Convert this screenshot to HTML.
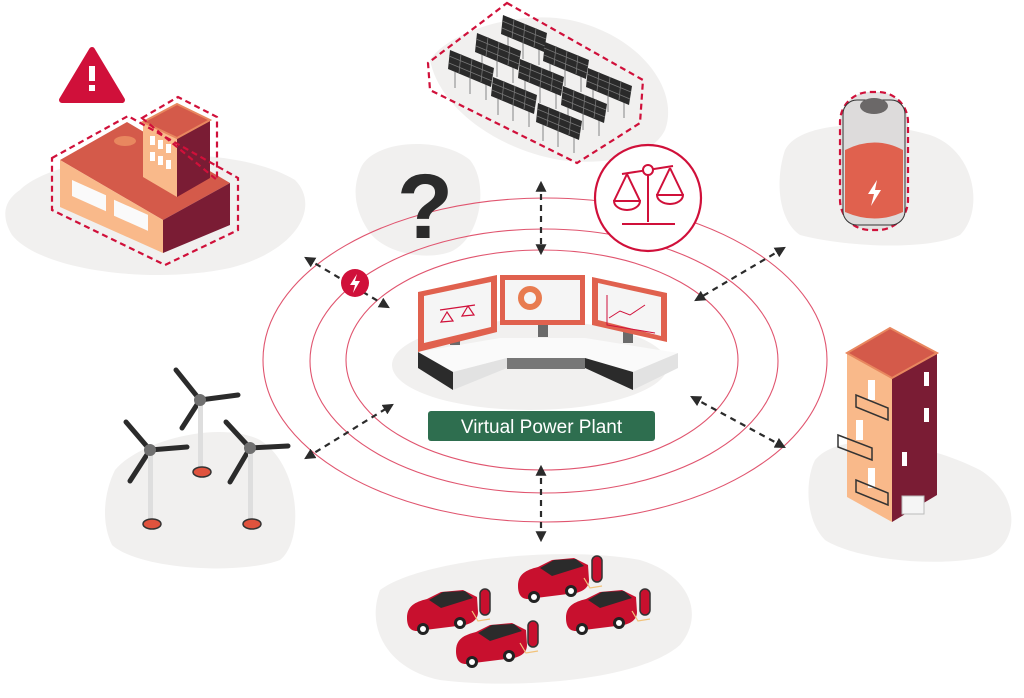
<!DOCTYPE html>
<html><head><meta charset="utf-8"><style>
html,body{margin:0;padding:0;background:#fff;width:1024px;height:698px;overflow:hidden}
svg{display:block}
</style></head><body>
<svg width="1024" height="698" viewBox="0 0 1024 698" xmlns="http://www.w3.org/2000/svg">
<defs>
<marker id="ah" viewBox="0 0 10 10" refX="8" refY="5" markerWidth="5" markerHeight="5" orient="auto-start-reverse"><path d="M0,0 L10,5 L0,10 z" fill="#2b2b2b"/></marker>
<g id="panel"><path d="M5,22 V38 M20,28 V44 M36,34 V50" stroke="#bbb" stroke-width="2"/><polygon points="0,0 44,18 41,37 -2,19" fill="#2a2a2a"/><path d="M11,4 L9,23 M22,9 L20,28 M33,13 L31,32 M-1,6 L43,24 M-1,13 L42,31" stroke="#777" stroke-width="0.8" fill="none"/></g>
<g id="car"><path d="M0,26 C0,14 8,10 20,7 L34,0 L56,-2 L70,5 L71,20 C71,27 66,31 58,33 L10,39 C3,39 0,34 0,26z" fill="#c8102e"/><path d="M22,8 L36,0 L58,-1 L66,6 L34,16z" fill="#2b2b2b"/><circle cx="16" cy="37" r="6" fill="#222"/><circle cx="16" cy="37" r="3" fill="#fff"/><circle cx="53" cy="31" r="6" fill="#222"/><circle cx="53" cy="31" r="3" fill="#fff"/></g>
<g id="charger"><rect x="0" y="0" width="10" height="26" rx="5" fill="#c8102e" stroke="#333" stroke-width="1.5"/><path d="M-8,22 L-2,32 L10,30" stroke="#f2c27a" stroke-width="1.2" fill="none"/></g>
</defs>

<g fill="#f1f0ef">
<path d="M20,190 C60,150 230,140 295,180 C320,205 300,250 230,268 C150,285 40,270 12,235 C0,215 5,200 20,190z"/>
<path d="M430,60 C450,30 520,10 570,20 C640,35 680,90 665,130 C650,160 600,165 560,160 C500,150 440,110 430,60z"/>
<path d="M785,150 C800,120 880,120 930,135 C975,150 985,210 960,235 C930,250 850,248 800,235 C778,220 775,180 785,150z"/>
<path d="M360,170 C370,140 440,135 470,160 C490,185 480,240 450,252 C420,262 380,250 368,230 C355,210 352,190 360,170z"/>
<path d="M815,460 C840,430 920,440 980,470 C1020,495 1020,540 990,555 C950,568 860,562 825,540 C805,520 805,480 815,460z"/>
<path d="M115,470 C140,440 220,420 260,440 C300,465 305,540 280,560 C240,575 140,570 112,545 C100,520 105,490 115,470z"/>
<path d="M380,590 C420,560 560,545 640,560 C690,575 705,615 680,645 C640,680 520,690 440,680 C390,670 365,630 380,590z"/>
<ellipse cx="530" cy="365" rx="138" ry="45"/>
</g>

<g fill="none" stroke="#e0556f" stroke-width="1.1">
<ellipse cx="545" cy="360" rx="282" ry="162"/>
<ellipse cx="544" cy="361" rx="234" ry="132"/>
<ellipse cx="542" cy="360" rx="196" ry="110"/>
</g>

<g stroke="#2b2b2b" stroke-width="2.2" stroke-dasharray="6,5" fill="none" marker-start="url(#ah)" marker-end="url(#ah)">
<line x1="541" y1="183" x2="541" y2="253"/>
<line x1="541" y1="467" x2="541" y2="540"/>
<line x1="306" y1="258" x2="388" y2="307"/>
<line x1="784" y1="248" x2="696" y2="300"/>
<line x1="306" y1="458" x2="392" y2="405"/>
<line x1="784" y1="447" x2="692" y2="397"/>
</g>

<circle cx="355" cy="283" r="14" fill="#d0103a"/>
<path d="M357,274 L350,285 L355,285 L353,293 L360,281 L355,281z" fill="#fff"/>

<text x="425" y="238" font-family="Liberation Sans, sans-serif" font-size="92" font-weight="bold" fill="#2b2b2b" text-anchor="middle">?</text>

<circle cx="648" cy="198" r="53" fill="#fff" stroke="#d0103a" stroke-width="2.2"/>
<g stroke="#d0103a" stroke-width="2" fill="none">
<line x1="622" y1="174" x2="673" y2="166"/><circle cx="648" cy="170" r="5" fill="#fff"/>
<line x1="648" y1="175" x2="648" y2="222"/><line x1="622" y1="224" x2="675" y2="224"/>
<path d="M627,174 L614,201 M627,174 L640,201 M614,201 A13,9 0 0 0 640,201z"/>
<path d="M670,168 L657,195 M670,168 L683,195 M657,195 A13,9 0 0 0 683,195z"/>
</g>

<g>
<polygon points="60,160 127,122 230,183 163,220" fill="#d45a4a"/>
<polygon points="60,160 163,220 163,253 60,207" fill="#f9b98a"/>
<polygon points="163,220 230,183 230,225 163,253" fill="#7a1c34"/>
<ellipse cx="125" cy="141" rx="11" ry="5" fill="#e8875f"/>
<rect x="72" y="180" width="34" height="16" fill="#fafafa" transform="skewY(24) translate(0,-32)"/>
<rect x="114" y="200" width="34" height="16" fill="#fafafa" transform="skewY(24) translate(0,-51)"/>
<polygon points="143,122 177,138 177,197 143,177" fill="#f9b98a"/>
<polygon points="177,138 210,120 210,178 177,197" fill="#7a1c34"/>
<polygon points="143,122 177,104 210,120 177,138" fill="#d45a4a" stroke="#e8875f" stroke-width="2"/>
<g fill="#fff"><rect x="150" y="136" width="5" height="9"/><rect x="158" y="140" width="5" height="9"/><rect x="166" y="144" width="5" height="9"/><rect x="150" y="152" width="5" height="9"/><rect x="158" y="156" width="5" height="9"/><rect x="166" y="160" width="5" height="9"/></g>
<g fill="none" stroke="#d0103a" stroke-width="2.2" stroke-dasharray="6,4">
<polygon points="52,158 128,116 238,178 238,230 165,265 52,210"/>
<polygon points="142,118 178,97 217,117 217,180"/>
</g>
<path d="M92,50 L122,100 L62,100z" fill="#d0103a" stroke="#d0103a" stroke-width="6" stroke-linejoin="round"/>
<rect x="89" y="66" width="6" height="15" fill="#fff"/><rect x="89" y="85" width="6" height="6" fill="#fff"/>
</g>

<g>
<use href="#panel" x="503" y="15"/><use href="#panel" x="477" y="33"/><use href="#panel" x="450" y="50"/>
<use href="#panel" x="545" y="42"/><use href="#panel" x="520" y="59"/><use href="#panel" x="493" y="77"/>
<use href="#panel" x="588" y="68"/><use href="#panel" x="563" y="86"/><use href="#panel" x="538" y="103"/>
<polygon points="507,3 643,80 640,123 577,163 430,90 428,63" fill="none" stroke="#d0103a" stroke-width="2.2" stroke-dasharray="6,4"/>
</g>

<g>
<rect x="840" y="92" width="68" height="138" rx="30" fill="#e4e2e2" stroke="#d0103a" stroke-width="2.2" stroke-dasharray="6,4"/>
<rect x="843" y="100" width="62" height="125" rx="14" fill="#dddbdb" stroke="#333" stroke-width="1"/>
<path d="M845,150 Q875,135 903,150 L903,212 Q875,225 845,212z" fill="#e0614e"/>
<ellipse cx="874" cy="106" rx="14" ry="8" fill="#6b6868"/>
<path d="M877,180 L868,194 L874,194 L871,206 L881,190 L875,190z" fill="#fff"/>
</g>

<g>
<polygon points="847,353 892,378 892,522 847,497" fill="#f9b98a"/>
<polygon points="892,378 937,353 937,495 892,522" fill="#7a1c34"/>
<polygon points="890,328 937,353 892,378 847,353" fill="#d45a4a" stroke="#e8875f" stroke-width="2"/>
<g fill="#fff"><rect x="924" y="372" width="5" height="14"/><rect x="924" y="408" width="5" height="14"/><rect x="902" y="452" width="5" height="14"/><rect x="868" y="380" width="7" height="20"/><rect x="856" y="420" width="7" height="20"/><rect x="868" y="468" width="7" height="20"/></g>
<g fill="none" stroke="#333" stroke-width="1.5"><path d="M856,395 L856,407 L888,420 L888,408z"/><path d="M838,435 L838,447 L872,460 L872,448z"/><path d="M856,480 L856,492 L888,505 L888,493z"/></g>
<rect x="902" y="496" width="22" height="18" fill="#f5f5f5" stroke="#bbb"/>
</g>

<g stroke="#2b2b2b" stroke-width="5" stroke-linecap="round">
<line x1="200" y1="400" x2="176" y2="370"/><line x1="200" y1="400" x2="238" y2="395"/><line x1="200" y1="400" x2="182" y2="428"/>
<line x1="150" y1="450" x2="126" y2="422"/><line x1="150" y1="450" x2="187" y2="447"/><line x1="150" y1="450" x2="130" y2="481"/>
<line x1="250" y1="448" x2="226" y2="422"/><line x1="250" y1="448" x2="288" y2="446"/><line x1="250" y1="448" x2="230" y2="482"/>
</g>
<g fill="#dedede"><rect x="198" y="400" width="5" height="72"/><rect x="148" y="450" width="5" height="75"/><rect x="248" y="450" width="5" height="75"/></g>
<g fill="#e0533e" stroke="#333" stroke-width="1.5"><ellipse cx="202" cy="472" rx="9" ry="5"/><ellipse cx="152" cy="524" rx="9" ry="5"/><ellipse cx="252" cy="524" rx="9" ry="5"/></g>
<g fill="#707070"><circle cx="200" cy="400" r="6"/><circle cx="150" cy="450" r="6"/><circle cx="250" cy="448" r="6"/></g>

<use href="#car" x="518" y="560"/><use href="#charger" x="592" y="556"/>
<use href="#car" x="407" y="592"/><use href="#charger" x="480" y="589"/>
<use href="#car" x="566" y="592"/><use href="#charger" x="640" y="589"/>
<use href="#car" x="456" y="625"/><use href="#charger" x="528" y="621"/>

<polygon points="418,352 500,338 585,338 678,353 633,372 585,358 507,358 453,372" fill="#fafafa"/>
<polygon points="418,352 453,372 453,390 418,368" fill="#2b2b2b"/>
<polygon points="453,372 507,358 507,368 453,390" fill="#e2e2e2"/>
<rect x="507" y="358" width="78" height="11" fill="#777"/>
<polygon points="585,358 633,372 633,390 585,368" fill="#2b2b2b"/>
<polygon points="633,372 678,353 678,368 633,390" fill="#e2e2e2"/>
<g fill="#6a6a6a"><rect x="450" y="330" width="10" height="15"/><rect x="538" y="325" width="10" height="12"/><rect x="623" y="325" width="10" height="18"/></g>
<polygon points="418,292 497,275 497,332 418,352" fill="#e0614e"/>
<polygon points="424,296 491,282 491,327 424,343" fill="#f5f5f5"/>
<rect x="500" y="275" width="85" height="50" fill="#e0614e"/>
<rect x="505" y="280" width="75" height="40" fill="#f5f5f5"/>
<polygon points="592,277 667,293 667,342 592,325" fill="#e0614e"/>
<polygon points="598,283 661,297 661,336 598,320" fill="#f5f5f5"/>
<circle cx="530" cy="298" r="9" fill="none" stroke="#e87b4f" stroke-width="6"/>
<path d="M440,310 L475,305 M447,312 L441,322 L453,321z M468,306 L462,316 L474,315z" stroke="#d0103a" stroke-width="1.2" fill="none"/>
<path d="M607,295 L607,325 L655,333 M609,318 L620,311 L630,315 L645,305" stroke="#d0103a" stroke-width="1" fill="none"/>

<rect x="428" y="411" width="227" height="30" rx="3" fill="#2e6e4f"/>
<text x="541.5" y="433" font-family="Liberation Sans, sans-serif" font-size="19" fill="#fff" text-anchor="middle">Virtual Power Plant</text>
</svg>
</body></html>
